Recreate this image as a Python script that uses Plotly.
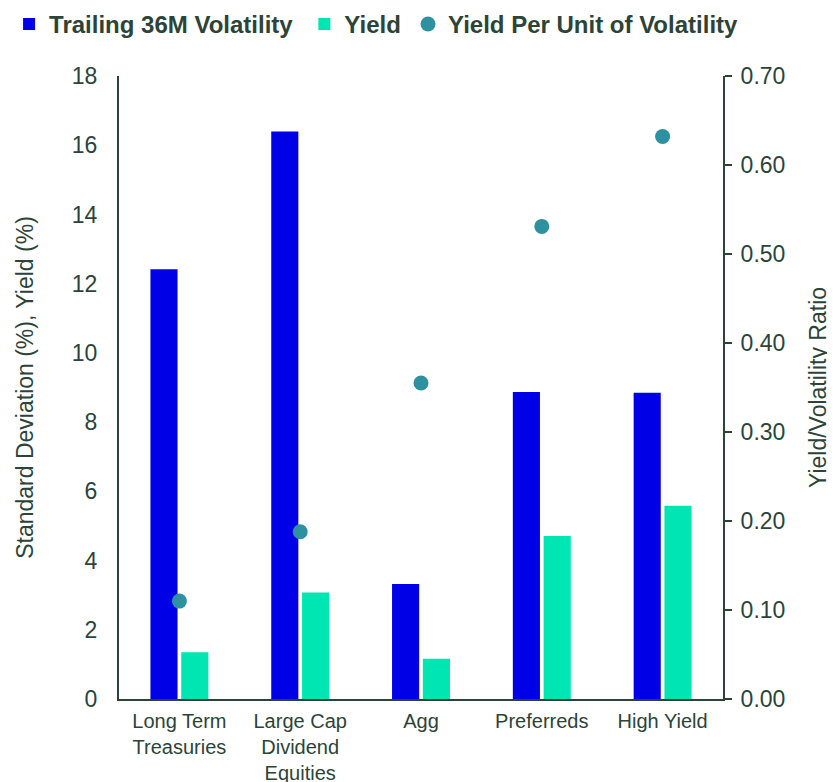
import plotly.graph_objects as go

categories = ["Long Term<br>Treasuries", "Large Cap<br>Dividend<br>Equities", "Agg", "Preferreds", "High Yield"]
volatility = [12.42, 16.40, 3.32, 8.87, 8.85]
yields = [1.35, 3.08, 1.16, 4.71, 5.58]
yield_per_vol = [0.110, 0.188, 0.355, 0.531, 0.632]
series_names = ["Trailing 36M Volatility", "Yield", "Yield Per Unit of Volatility"]

TEXT = "#2c4437"
FONT = "Liberation Sans, Arial, sans-serif"

fig = go.Figure()
fig.add_trace(go.Bar(x=categories, y=volatility, name="<b>" + series_names[0] + "</b>&nbsp;",
                     marker=dict(color="#0000e6", line=dict(width=0)), legend="legend"))
fig.add_trace(go.Bar(x=categories, y=yields, name="<b>" + series_names[1] + "</b>",
                     marker=dict(color="#00e6b2", line=dict(width=0)), legend="legend"))
fig.add_trace(go.Scatter(x=categories, y=yield_per_vol, name="<b>" + series_names[2] + "</b>",
                         mode="markers", yaxis="y2", legend="legend2",
                         marker=dict(color="#2e919f", size=15)))

# page body adds an 8px offset, so the figure is 827x774 and the plot area is 111..715 x 68..691
legend_style = dict(orientation="h", xref="paper", yref="paper", y=1.119,
                    xanchor="left", yanchor="top", font=dict(size=24, color=TEXT),
                    traceorder="normal", bgcolor="rgba(0,0,0,0)")

fig.update_layout(
    width=827, height=774,
    margin=dict(l=111, r=112, t=68, b=83, autoexpand=False),
    paper_bgcolor="white", plot_bgcolor="white",
    font=dict(family=FONT, color=TEXT, size=23),
    barmode="group", bargap=0.49, bargroupgap=0.12,
    showlegend=True,
    legend=dict(legend_style, x=-0.182),
    legend2=dict(legend_style, x=0.4785),
    xaxis=dict(showline=True, linecolor=TEXT, linewidth=2, ticks="",
               tickfont=dict(size=20), ticklabelstandoff=3, automargin=False,
               showgrid=False, zeroline=False),
    yaxis=dict(range=[0, 18], dtick=2, showline=True, linecolor=TEXT, linewidth=2,
               ticks="", showgrid=False, zeroline=False, ticklabelstandoff=15,
               automargin=False,
               title=dict(text="Standard Deviation (%), Yield (%)", standoff=32,
                          font=dict(size=23))),
    yaxis2=dict(range=[0, 0.7], dtick=0.1, tickformat=".2f", overlaying="y", side="right",
                showline=True, linecolor=TEXT, linewidth=2, ticks="outside", ticklen=7,
                tickcolor=TEXT, tickwidth=2, showgrid=False, zeroline=False,
                ticklabelstandoff=4, automargin=False,
                title=dict(text="Yield/Volatility Ratio", standoff=26, font=dict(size=23))),
)

fig.write_html("out.html")
